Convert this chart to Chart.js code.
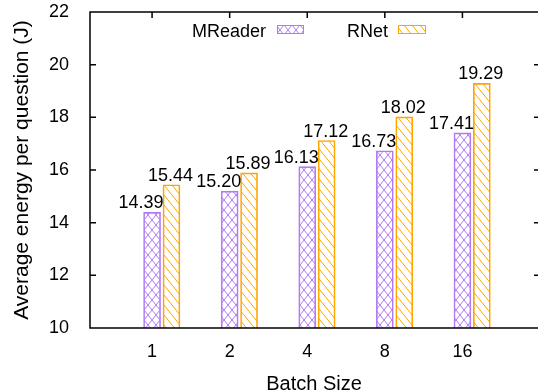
<!DOCTYPE html>
<html><head><meta charset="utf-8">
<script src="https://cdn.jsdelivr.net/npm/chart.js@4.4.0/dist/chart.umd.min.js"></script>
<style>html,body{margin:0;padding:0;background:#fff}#wrap{width:538px;height:391px}</style>
</head><body><div id="wrap"><canvas id="c" width="538" height="391"></canvas></div>
<script>
const categories = ['1', '2', '4', '8', '16'];
const mreader = [14.39, 15.20, 16.13, 16.73, 17.41];
const rnet = [15.44, 15.89, 17.12, 18.02, 19.29];
const seriesNames = ['MReader', 'RNet'];
const yTicks = [10, 12, 14, 16, 18, 20, 22];

const FONT = "'Liberation Sans', Arial, Helvetica, sans-serif";
Chart.defaults.font.family = FONT;
Chart.defaults.color = '#000';

const PURPLE = '#b37af5';
const ORANGE = '#ffa500';

const canvas = document.getElementById('c');
const ctx0 = canvas.getContext('2d');

function makePattern(color, cross) {
  const w = 8, h = 10;
  const c = document.createElement('canvas');
  c.width = w; c.height = h;
  const g = c.getContext('2d');
  g.strokeStyle = color; g.lineWidth = 1;
  g.beginPath();
  for (const dx of [-w, 0, w]) {
    g.moveTo(dx, 0); g.lineTo(dx + w, h);
    if (cross) { g.moveTo(dx + w, 0); g.lineTo(dx, h); }
  }
  g.stroke();
  return ctx0.createPattern(c, 'repeat');
}
const patP = makePattern(PURPLE, true);
const patO = makePattern(ORANGE, false);

const frame = {
  id: 'frame',
  afterDraw(chart) {
    const {ctx, chartArea: a, scales} = chart;
    ctx.save();
    ctx.strokeStyle = '#000';
    ctx.lineWidth = 1.5;
    ctx.beginPath();
    ctx.moveTo(a.right + 2, a.top); ctx.lineTo(a.left, a.top); ctx.lineTo(a.left, a.bottom); ctx.lineTo(a.right + 2, a.bottom);
    for (const t of yTicks) {
      const y = scales.y.getPixelForValue(t);
      ctx.moveTo(a.left, y); ctx.lineTo(a.left + 6, y);
      ctx.moveTo(a.right, y); ctx.lineTo(a.right - 4, y);
    }
    categories.forEach((c, i) => {
      const x = scales.x.getPixelForValue(i);
      ctx.moveTo(x, a.top); ctx.lineTo(x, a.top + 6);
    });
    ctx.stroke();

    ctx.fillStyle = '#000';
    ctx.font = '18px ' + FONT;
    ctx.textAlign = 'center';
    ctx.textBaseline = 'alphabetic';
    const offs = [-11, -1];
    chart.data.datasets.forEach((ds, di) => {
      const meta = chart.getDatasetMeta(di);
      meta.data.forEach((el, i) => {
        const v = di === 0 ? mreader[i] : rnet[i];
        ctx.fillText(v.toFixed(2), el.x + offs[di], el.y - 4);
      });
    });

    const items = [
      {text: seriesNames[0], right: 266, bx: 277, bw: 27, pat: patP, col: PURPLE},
      {text: seriesNames[1], right: 388, bx: 398, bw: 28, pat: patO, col: ORANGE}
    ];
    ctx.textAlign = 'right';
    for (const it of items) {
      ctx.fillStyle = '#000';
      ctx.fillText(it.text, it.right, 37);
      ctx.fillStyle = it.pat;
      ctx.fillRect(it.bx, 25, it.bw, 9);
      ctx.strokeStyle = it.col;
      ctx.lineWidth = 1;
      ctx.strokeRect(it.bx + 0.5, 25.5, it.bw - 1, 8);
    }
    ctx.restore();
  }
};

new Chart(canvas, {
  type: 'bar',
  data: {
    datasets: [
      {label: seriesNames[0], data: mreader.map((v, i) => ({x: i, y: v})),
       backgroundColor: patP, borderColor: PURPLE, borderWidth: 1, barThickness: 17, grouped: false, base: 10},
      {label: seriesNames[1], data: rnet.map((v, i) => ({x: i + 0.25, y: v})),
       backgroundColor: patO, borderColor: ORANGE, borderWidth: 1, barThickness: 17, grouped: false, base: 10}
    ]
  },
  options: {
    responsive: false,
    animation: false,
    devicePixelRatio: 1,
    layout: {padding: {top: 12, left: 0, right: 0, bottom: 0}},
    plugins: {legend: {display: false}, tooltip: {enabled: false}},
    scales: {
      x: {
        type: 'linear', min: -0.8, max: 4.974, offset: false,
        grid: {display: false, offset: false}, border: {display: false},
        ticks: {stepSize: 1, includeBounds: false, autoSkip: false, maxRotation: 0,
                font: {size: 18}, color: '#000', padding: 5,
                callback: (v) => (Number.isInteger(v) && categories[v] !== undefined) ? categories[v] : ''},
        title: {display: true, text: 'Batch Size', font: {size: 20}, color: '#000', padding: {top: 0, bottom: -5}},
        afterFit: (s) => { s.height = 63; s.paddingLeft = 0; s.paddingRight = 0; }
      },
      y: {
        min: 10, max: 22,
        grid: {display: false}, border: {display: false},
        ticks: {stepSize: 2, font: {size: 18}, color: '#000', padding: 13},
        title: {display: true, text: 'Average energy per question (J)', font: {size: 21}, color: '#000', padding: {top: 10, bottom: 0}},
        afterFit: (s) => { s.width = 90; s.paddingTop = 0; s.paddingBottom = 0; }
      }
    }
  },
  plugins: [frame]
});
</script>
</body></html>
